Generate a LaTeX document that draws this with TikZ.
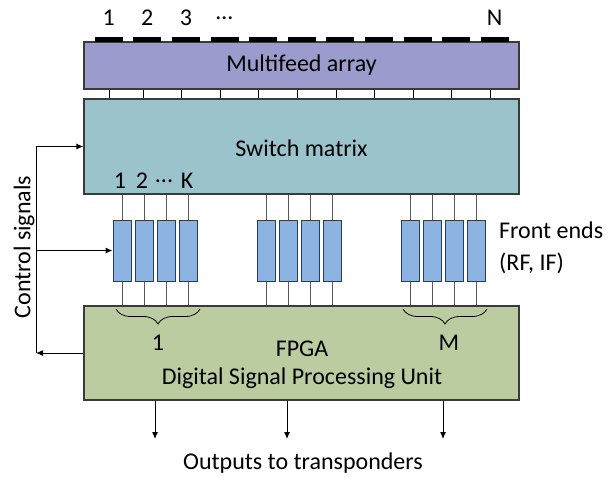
\documentclass[tikz,border=0pt]{standalone}
\usepackage{fontspec}
\setmainfont{Carlito}
\usetikzlibrary{arrows.meta, decorations.pathreplacing}
\definecolor{arraycol}{RGB}{155,155,205}
\definecolor{switchcol}{RGB}{155,195,203}
\definecolor{fecol}{RGB}{141,179,226}
\definecolor{fpgacol}{RGB}{187,204,160}
\definecolor{edgecol}{RGB}{58,58,58}
\definecolor{leadcol}{RGB}{89,89,89}
\tikzset{
  block/.style={draw=edgecol, line width=1.2pt, minimum width=435pt, inner sep=0pt},
  febox/.style={draw=edgecol, fill=fecol, line width=1pt, minimum width=18pt, minimum height=61pt, inner sep=0pt},
  lead/.style={draw=leadcol, line width=1pt},
  sig/.style={-{Latex[length=7pt, width=6pt]}, line width=1pt},
  txt/.style={font=\fontsize{24}{29}\selectfont, inner sep=0pt}
}
\begin{document}
\begin{tikzpicture}[x=1pt, y=-1pt, every node/.append style={txt}]
\useasboundingbox (0,0) rectangle (615,476);
% main blocks
\node [block, fill=arraycol, minimum height=47pt] (array) at (301.5, 65.5) {Multifeed array};
\node [block, fill=switchcol, minimum height=95pt] (switch) at (301.5, 146.5) {};
\node [block, fill=fpgacol, minimum height=94pt] (fpga) at (301.5, 353) {};
\node (swtxt) at (301.5, 148) {Switch matrix};
\node (fpgatxt) at (302, 349) {FPGA};
\node (dsp) at (302, 378) {Digital Signal Processing Unit};
% feed elements
\foreach \i in {0, ..., 10}{\fill (94.7+\i*38.6, 37) rectangle ++(28, 5);}
\node (f1) at (108.7, 18) {1};
\node (f2) at (147.3, 18) {2};
\node (f3) at (185.9, 18) {3};
\node (fdots) at (224.5, 18) {…};
\node (fn) at (494.7, 18) {N};
\foreach \x in {109, 143, 181.3, 220, 258.7, 297.3, 336, 374.3, 413, 451.7, 490.3}{\draw [line width=1pt] (\x, 0 |- array.south) -- (\x, 0 |- switch.north);}
% front ends
\foreach \g/\x in {1/122, 2/266, 3/410}{
  \foreach \k in {1, 2, 3, 4}{
    \node [febox] (fe\g\k) at (\x+\k*22.3-22.3, 250.5) {};
    \draw [lead] (fe\g\k.north) -- (fe\g\k.north |- switch.south);
    \draw [lead] (fe\g\k.south) -- (fe\g\k.south |- fpga.north);
  }
}
\node (k1) at (120, 181) {1};
\node (k2) at (142, 181) {2};
\node (kdots) at (164, 181) {...};
\node (kk) at (187, 181) {K};
\node [anchor=west] (fetxt) at (499, 230) {Front ends};
\node [anchor=west] (rfif) at (499, 263) {(RF, IF)};
% braces
\draw [line width=0.8pt, decorate, decoration={brace, mirror, amplitude=15pt}] (116, 309) -- (200, 309);
\draw [line width=0.8pt, decorate, decoration={brace, mirror, amplitude=15pt}] (403, 309) -- (487, 309);
\node (b1) at (158, 343) {1};
\node (bm) at (449, 343) {M};
% control signals
\coordinate (ctltop) at (36, 0 |- switch.west);
\coordinate (ctlmid) at (36, 0 |- fe11.west);
\coordinate (ctlbot) at (36, 0 |- fpga.west);
\draw [sig] (fpga.west) -- (ctlbot);
\draw [line width=1pt] (ctlbot) -- (ctltop);
\draw [sig] (ctltop) -- (switch.west);
\draw [sig] (ctlmid) -- (fe11.west);
\node [rotate=90] (ctltxt) at (24, 247) {Control signals};
% outputs
\foreach \n/\x in {1/155, 2/287, 3/443}{
  \coordinate (out\n) at (\x, 439);
  \draw [sig] (out\n |- fpga.south) -- (out\n);
}
\node (outtxt) at (303, 463) {Outputs to transponders};
\end{tikzpicture}
\end{document}
